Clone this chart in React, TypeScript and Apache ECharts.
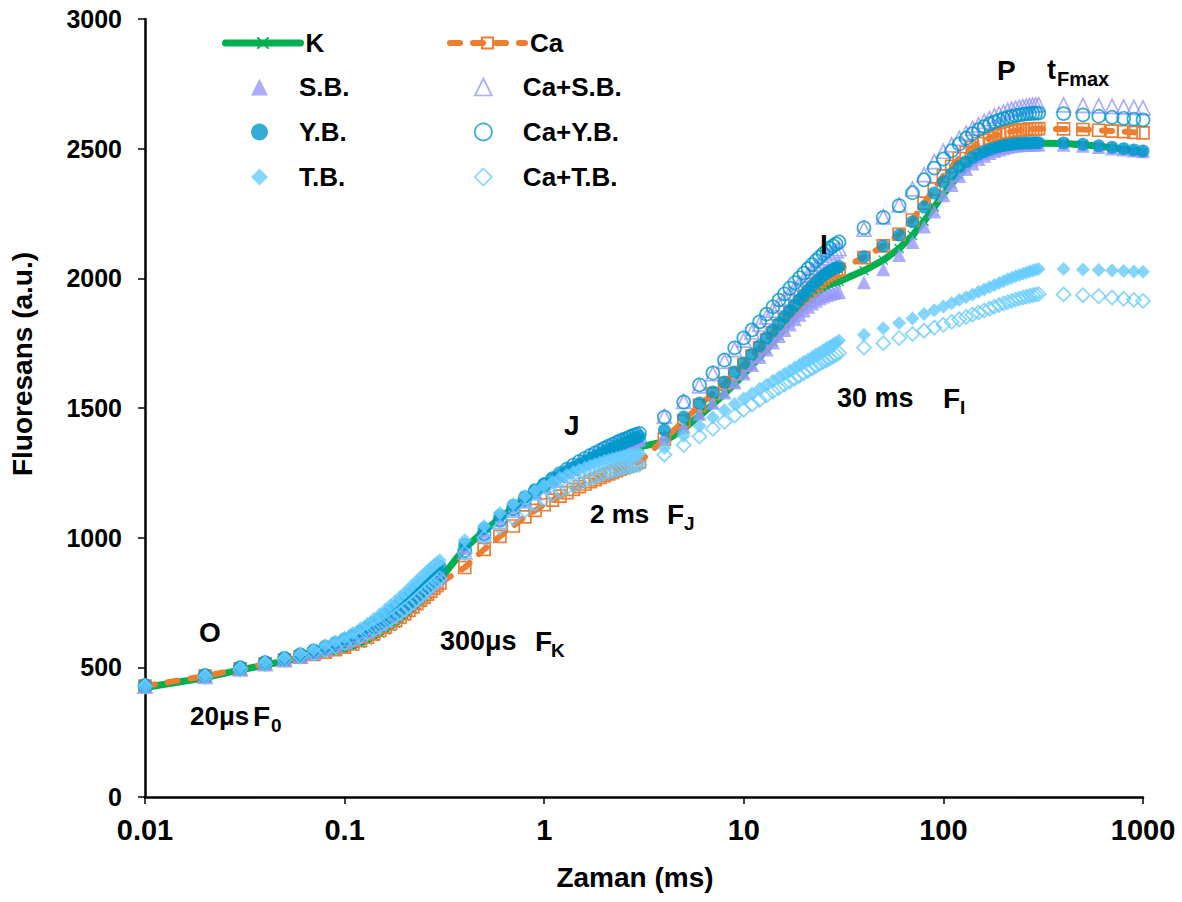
import React, { useEffect, useRef } from "react";
import * as echarts from "echarts";

const TIME = [
  0.01, 0.02, 0.03, 0.04, 0.05, 0.06, 0.07, 0.08, 0.09, 0.1, 0.11, 0.12, 0.13, 0.14, 0.15, 0.16, 0.17, 0.18, 0.19, 0.2, 0.21, 0.22, 0.23, 0.24, 0.25, 0.26, 0.27, 0.28, 0.29, 0.3,
  0.4, 0.5, 0.6, 0.7, 0.8, 0.9, 1.0, 1.1, 1.2, 1.3, 1.4, 1.5, 1.6, 1.7, 1.8, 1.9, 2.0, 2.1, 2.2, 2.3, 2.4, 2.5, 2.6, 2.7, 2.8, 2.9, 3.0,
  4, 5, 6, 7, 8, 9, 10, 11, 12, 13, 14, 15, 16, 17, 18, 19, 20, 21, 22, 23, 24, 25, 26, 27, 28, 29, 30,
  40, 50, 60, 70, 80, 90, 100, 110, 120, 130, 140, 150, 160, 170, 180, 190, 200, 210, 220, 230, 240, 250, 260, 270, 280, 290, 300,
  400, 500, 600, 700, 800, 900, 1000,
];

const K_VALUES = [
  422, 460, 490, 509, 524, 536, 547, 556, 563, 570, 581, 593, 605, 618, 631, 644, 657, 670, 684, 698, 712, 726, 740, 754, 768, 782, 796, 810, 824, 838,
  960, 1025, 1075, 1115, 1147, 1173, 1195, 1213, 1229, 1243, 1255, 1266, 1276, 1285, 1293, 1300, 1307, 1313, 1319, 1324, 1329, 1333, 1337, 1341, 1344, 1347, 1350,
  1370, 1420, 1470, 1514, 1555, 1593, 1630, 1664, 1696, 1726, 1754, 1780, 1805, 1828, 1850, 1870, 1889, 1906, 1922, 1937, 1950, 1960, 1968, 1975, 1980, 1984, 1988,
  2030, 2070, 2115, 2165, 2220, 2275, 2325, 2365, 2398, 2425, 2446, 2463, 2476, 2486, 2494, 2500, 2505, 2509, 2512, 2515, 2517, 2518, 2519, 2520, 2520, 2521, 2521,
  2520, 2515, 2509, 2503, 2497, 2491, 2486,
];

const CA_VALUES = [
  428, 466, 494, 513, 528, 540, 550, 559, 568, 578, 590, 603, 616, 629, 642, 655, 668, 681, 694, 707, 720, 733, 746, 758, 770, 782, 794, 805, 815, 825,
  885, 955, 1005, 1045, 1080, 1105, 1127, 1145, 1160, 1174, 1186, 1197, 1207, 1216, 1224, 1232, 1239, 1246, 1252, 1258, 1264, 1269, 1274, 1279, 1284, 1288, 1292,
  1380, 1450, 1510, 1555, 1595, 1632, 1667, 1700, 1732, 1762, 1790, 1817, 1842, 1866, 1888, 1908, 1927, 1944, 1960, 1975, 1988, 2000, 2010, 2018, 2025, 2030, 2035,
  2080, 2125, 2170, 2225, 2290, 2345, 2395, 2432, 2462, 2486, 2505, 2520, 2532, 2541, 2549, 2555, 2560, 2564, 2567, 2570, 2572, 2573, 2574, 2575, 2576, 2576, 2577,
  2576, 2574, 2571, 2568, 2566, 2563, 2561,
];

const SB_VALUES = [
  428, 466, 496, 516, 532, 546, 560, 575, 589, 603, 618, 633, 648, 663, 678, 693, 708, 723, 737, 751, 765, 778, 791, 804, 816, 828, 840, 851, 862, 872,
  960, 1020, 1072, 1113, 1147, 1176, 1200, 1220, 1238, 1254, 1268, 1280, 1291, 1301, 1310, 1318, 1326, 1333, 1340, 1346, 1352, 1357, 1362, 1367, 1371, 1375, 1379,
  1390, 1428, 1478, 1520, 1560, 1598, 1633, 1666, 1697, 1726, 1753, 1778, 1801, 1822, 1842, 1860, 1876, 1890, 1903, 1914, 1923, 1930, 1936, 1940, 1943, 1945, 1947,
  1985, 2035, 2090, 2140, 2200, 2258, 2320, 2360, 2395, 2422, 2443, 2460, 2473, 2483, 2491, 2497, 2502, 2506, 2509, 2511, 2513, 2514, 2515, 2515, 2516, 2516, 2516,
  2515, 2511, 2506, 2501, 2497, 2493, 2490,
];

const CA_SB_VALUES = [
  427, 465, 494, 514, 530, 543, 557, 571, 585, 598, 612, 626, 640, 654, 668, 682, 696, 710, 724, 738, 751, 764, 777, 790, 802, 814, 826, 837, 848, 858,
  945, 1010, 1063, 1106, 1142, 1173, 1199, 1222, 1242, 1259, 1274, 1288, 1300, 1311, 1321, 1330, 1339, 1347, 1354, 1361, 1367, 1373, 1378, 1383, 1388, 1392, 1396,
  1468, 1525, 1585, 1632, 1680, 1725, 1762, 1793, 1823, 1851, 1877, 1901, 1923, 1944, 1963, 1981, 1998, 2014, 2029, 2043, 2056, 2068, 2079, 2089, 2098, 2106, 2114,
  2190, 2237, 2283, 2345, 2400, 2450, 2490, 2515, 2540, 2560, 2578, 2592, 2605, 2616, 2626, 2634, 2641, 2647, 2652, 2656, 2659, 2662, 2664, 2666, 2668, 2669, 2670,
  2669, 2667, 2665, 2663, 2661, 2659, 2657,
];

const YB_VALUES = [
  433, 472, 502, 522, 538, 552, 567, 582, 596, 610, 625, 641, 657, 673, 689, 705, 721, 737, 752, 767, 781, 795, 808, 821, 834, 846, 858, 869, 880, 890,
  975, 1035, 1085, 1125, 1158, 1185, 1207, 1226, 1243, 1258, 1271, 1283, 1294, 1304, 1313, 1322, 1330, 1338, 1345, 1352, 1358, 1364, 1370, 1375, 1380, 1385, 1390,
  1415, 1465, 1519, 1562, 1600, 1639, 1674, 1708, 1740, 1771, 1800, 1827, 1852, 1876, 1898, 1918, 1937, 1954, 1970, 1985, 1998, 2010, 2020, 2028, 2035, 2040, 2045,
  2083, 2125, 2167, 2218, 2275, 2329, 2372, 2404, 2430, 2450, 2466, 2479, 2489, 2497, 2503, 2508, 2512, 2515, 2517, 2519, 2520, 2521, 2522, 2522, 2523, 2523, 2523,
  2522, 2517, 2511, 2505, 2500, 2495, 2491,
];

const CA_YB_VALUES = [
  429, 467, 497, 517, 533, 546, 560, 574, 588, 601, 615, 629, 643, 657, 671, 685, 699, 713, 727, 741, 754, 767, 780, 793, 805, 817, 829, 840, 851, 861,
  950, 1015, 1068, 1111, 1147, 1178, 1204, 1227, 1247, 1264, 1280, 1294, 1306, 1317, 1327, 1336, 1345, 1353, 1360, 1367, 1373, 1379, 1384, 1389, 1394, 1398, 1402,
  1465, 1523, 1589, 1635, 1685, 1732, 1770, 1801, 1832, 1862, 1890, 1916, 1940, 1962, 1983, 2002, 2020, 2037, 2053, 2068, 2082, 2095, 2106, 2116, 2125, 2133, 2140,
  2195, 2235, 2280, 2330, 2380, 2425, 2460, 2492, 2518, 2540, 2558, 2573, 2585, 2595, 2603, 2610, 2616, 2620, 2624, 2627, 2630, 2632, 2634, 2635, 2636, 2637, 2637,
  2635, 2630, 2625, 2621, 2617, 2614, 2611,
];

const TB_VALUES = [
  432, 470, 500, 521, 538, 553, 569, 585, 600, 615, 632, 650, 668, 686, 704, 722, 739, 756, 772, 788, 803, 818, 832, 846, 859, 871, 883, 894, 904, 913,
  990, 1045, 1095, 1130, 1160, 1182, 1200, 1215, 1230, 1242, 1253, 1262, 1270, 1277, 1284, 1290, 1296, 1300, 1304, 1308, 1311, 1314, 1317, 1319, 1321, 1323, 1325,
  1346, 1393, 1431, 1463, 1491, 1515, 1537, 1556, 1574, 1590, 1605, 1619, 1632, 1644, 1656, 1667, 1678, 1687, 1697, 1706, 1714, 1723, 1731, 1738, 1746, 1753, 1760,
  1782, 1808, 1828, 1845, 1862, 1877, 1891, 1904, 1916, 1927, 1938, 1948, 1957, 1966, 1974, 1982, 1989, 1996, 2002, 2008, 2013, 2018, 2022, 2026, 2030, 2033, 2036,
  2036, 2034, 2032, 2030, 2028, 2026, 2025,
];

const CA_TB_VALUES = [
  426, 463, 492, 512, 528, 541, 554, 567, 580, 593, 606, 619, 632, 645, 658, 671, 684, 697, 710, 723, 736, 749, 762, 775, 787, 799, 811, 822, 833, 843,
  940, 1000, 1040, 1075, 1105, 1130, 1150, 1166, 1180, 1192, 1203, 1212, 1220, 1228, 1235, 1241, 1247, 1252, 1257, 1261, 1265, 1268, 1271, 1274, 1277, 1279, 1281,
  1320, 1357, 1390, 1420, 1447, 1471, 1493, 1513, 1531, 1548, 1563, 1577, 1590, 1602, 1613, 1624, 1634, 1643, 1652, 1661, 1669, 1677, 1684, 1691, 1698, 1705, 1712,
  1733, 1750, 1770, 1785, 1798, 1810, 1821, 1832, 1842, 1851, 1860, 1868, 1876, 1883, 1890, 1897, 1903, 1908, 1913, 1918, 1922, 1926, 1929, 1932, 1935, 1937, 1939,
  1938, 1935, 1931, 1926, 1921, 1917, 1913,
];

const LEGEND_LINES_LEFT = ["K"];
const LEGEND_MARKS_LEFT = ["S.B.", "Y.B.", "T.B."];
const LEGEND_LINES_RIGHT = ["Ca"];
const LEGEND_MARKS_RIGHT = ["Ca+S.B.", "Ca+Y.B.", "Ca+T.B."];
const X_TITLE = "Zaman (ms)";
const Y_TITLE = "Fluoresans (a.u.)";

const FONT = "'Liberation Sans', Arial, sans-serif";
const GREEN = "#00B050";
const ORANGE = "#ED7D31";
const PURPLE = "#9999FF";
const BLUE = "#0099CC";
const LIGHT = "#66CCFF";
const CROSS = "path://M0,0L10,10M10,0L0,10";

function pairs(vals: number[]) {
  return TIME.map((t, i) => [t, vals[i]]);
}

function scatter(name: string, vals: number[], symbol: string, color: string, hollow: boolean, size: number) {
  return {
    name,
    type: "scatter",
    data: pairs(vals),
    symbol,
    symbolSize: size,
    itemStyle: hollow
      ? { color: "rgba(255,255,255,0)", borderColor: color, borderWidth: 1.7 }
      : { color },
    z: 3,
  };
}

function txt(x: number, y: number, text: string, size = 27) {
  return {
    type: "text",
    x,
    y,
    style: { text, font: `bold ${size}px ${FONT}`, fill: "#000", textVerticalAlign: "middle" },
    z: 10,
  };
}

export default function App() {
  const ref = useRef<HTMLDivElement>(null);
  useEffect(() => {
    if (!ref.current) return;
    const chart = echarts.init(ref.current, null, { renderer: "svg" });
    const legendText = { fontFamily: FONT, fontWeight: "bold", fontSize: 26, color: "#000" };
    const lineLegend = {
      top: 25,
      orient: "vertical",
      itemWidth: 75,
      itemHeight: 14,
      textStyle: legendText,
      selectedMode: false,
      lineStyle: { width: "inherit" },
    };
    const markLegend = {
      top: 69,
      orient: "vertical",
      itemWidth: 17,
      itemHeight: 17,
      itemGap: 19,
      textStyle: { ...legendText, padding: [0, 0, 0, 26] },
      selectedMode: false,
      itemStyle: { borderWidth: "inherit" },
    };
    chart.setOption({
      animation: false,
      backgroundColor: "#fff",
      grid: { left: 145, right: 39, top: 19, bottom: 105 },
      legend: [
        { ...lineLegend, data: LEGEND_LINES_LEFT, left: 217 },
        { ...lineLegend, data: LEGEND_LINES_RIGHT, left: 442 },
        { ...markLegend, data: LEGEND_MARKS_LEFT, left: 246 },
        { ...markLegend, data: LEGEND_MARKS_RIGHT, left: 469 },
      ],
      xAxis: {
        type: "log",
        logBase: 10,
        min: 0.01,
        max: 1000,
        name: X_TITLE,
        nameLocation: "middle",
        nameGap: 66,
        nameTextStyle: { fontFamily: FONT, fontWeight: "bold", fontSize: 28, color: "#000", padding: [0, 18, 0, 0] },
        axisLine: { lineStyle: { color: "#000", width: 2.5 } },
        axisTick: { show: true, length: 7, lineStyle: { color: "#000", width: 1.5 } },
        minorTick: { show: false },
        splitLine: { show: false },
        axisLabel: {
          fontFamily: FONT,
          fontWeight: "bold",
          fontSize: 29,
          color: "#000",
          margin: 18,
          formatter: (v: number) => String(+v.toPrecision(6)),
        },
      },
      yAxis: {
        type: "value",
        min: 0,
        max: 3000,
        interval: 500,
        axisLine: { show: true, lineStyle: { color: "#000", width: 2.5 } },
        axisTick: { show: true, length: 7, lineStyle: { color: "#000", width: 1.5 } },
        splitLine: { show: false },
        axisLabel: {
          fontFamily: FONT,
          fontWeight: "bold",
          fontSize: 25,
          color: "#000",
          margin: 23,
          formatter: (v: number) => String(v),
        },
      },
      series: [
        {
          name: "K",
          type: "line",
          data: pairs(K_VALUES),
          symbol: CROSS,
          symbolSize: 9,
          showAllSymbol: true,
          lineStyle: { color: GREEN, width: 7, cap: "round" },
          itemStyle: { color: GREEN, borderColor: GREEN, borderWidth: 1.2 },
          z: 2,
        },
        {
          name: "Ca",
          type: "line",
          data: pairs(CA_VALUES),
          symbol: "rect",
          symbolSize: 12,
          showAllSymbol: true,
          lineStyle: { color: ORANGE, width: 6, type: [10, 13], cap: "round" },
          itemStyle: { color: "rgba(255,255,255,0)", borderColor: ORANGE, borderWidth: 1.7 },
          z: 2,
        },
        scatter("S.B.", SB_VALUES, "triangle", PURPLE, false, 14),
        scatter("Ca+S.B.", CA_SB_VALUES, "triangle", PURPLE, true, 14),
        scatter("Y.B.", YB_VALUES, "circle", BLUE, false, 13),
        scatter("Ca+Y.B.", CA_YB_VALUES, "circle", BLUE, true, 13),
        scatter("T.B.", TB_VALUES, "diamond", LIGHT, false, 14),
        scatter("Ca+T.B.", CA_TB_VALUES, "diamond", LIGHT, true, 14),
      ],
      graphic: [
        {
          type: "text",
          x: 22,
          y: 364,
          rotation: Math.PI / 2,
          style: {
            text: Y_TITLE,
            font: `bold 28px ${FONT}`,
            fill: "#000",
            textAlign: "center",
            textVerticalAlign: "middle",
          },
        },
        txt(199, 632, "O", 28),
        txt(190, 716, "20μs", 26),
        txt(253, 716, "F", 28),
        txt(271, 725, "0", 19),
        txt(440, 641, "300μs", 27),
        txt(535, 641, "F", 28),
        txt(551, 650, "K", 19),
        txt(564, 425, "J", 28),
        txt(590, 514, "2 ms", 26),
        txt(667, 514, "F", 28),
        txt(684, 523, "J", 19),
        txt(820, 244, "I", 28),
        txt(837, 398, "30 ms", 27),
        txt(943, 398, "F", 28),
        txt(960, 407, "I", 19),
        txt(997, 70, "P", 28),
        txt(1047, 70, "t", 27),
        txt(1057, 79, "Fmax", 20),
      ],
    });
    return () => chart.dispose();
  }, []);
  return <div ref={ref} style={{ position: "fixed", left: 0, top: 0, width: 1182, height: 902 }} />;
}
